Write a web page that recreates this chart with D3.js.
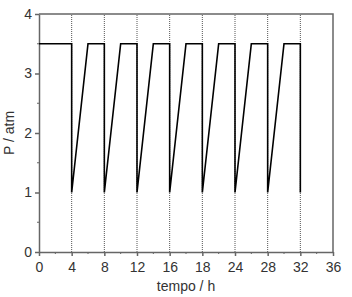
<!DOCTYPE html>
<html>
<head>
<meta charset="utf-8">
<script src="https://cdn.jsdelivr.net/npm/d3@7"></script>
<style>
  body { margin: 0; background: #fff; }
  text { font-family: "Liberation Sans", Arial, sans-serif; fill: #333; }
</style>
</head>
<body>
<script>
// pressure cycle: hold 3.5 atm, drop to 1 atm, ramp back up
var tempo = [0, 4, 4, 6, 8, 8, 10, 12, 12, 14, 16, 16, 18, 20, 20, 22, 24, 24, 26, 28, 28, 30, 32, 32];
var pressao = [3.5, 3.5, 1, 3.5, 3.5, 1, 3.5, 3.5, 1, 3.5, 3.5, 1, 3.5, 3.5, 1, 3.5, 3.5, 1, 3.5, 3.5, 1, 3.5, 3.5, 1];
var marcas = [4, 8, 12, 16, 20, 24, 28, 32];
var xTicks = [0, 4, 8, 12, 16, 20, 24, 28, 32, 36];
var xTickLabels = ["0", "4", "8", "12", "16", "18", "24", "28", "32", "36"];
var yTicks = [0, 1, 2, 3, 4];

var w = 352;
var h = 297;
var margin = {top: 14, right: 19, bottom: 45, left: 39};

var svg = d3.select("body")
            .append("svg")
            .attr("width", w)
            .attr("height", h);

var x = d3.scaleLinear().domain([0, 36]).range([margin.left, w - margin.right]);
var y = d3.scaleLinear().domain([0, 4]).range([h - margin.bottom, margin.top]);

var data = tempo.map(function(t, i) { return {t: t, p: pressao[i]}; });

// dotted guides
svg.selectAll("line.guia")
   .data(marcas)
   .enter()
   .append("line")
   .attr("class", "guia")
   .attr("x1", function(d) { return x(d); })
   .attr("x2", function(d) { return x(d); })
   .attr("y1", y(0))
   .attr("y2", y(4))
   .attr("stroke", "#555")
   .attr("stroke-width", 1)
   .attr("stroke-dasharray", "1,1");

// minor ticks
var gray = "#666";
svg.selectAll("line.mx")
   .data(d3.range(2, 36, 4))
   .enter()
   .append("line")
   .attr("x1", function(d) { return x(d); })
   .attr("x2", function(d) { return x(d); })
   .attr("y1", y(0))
   .attr("y2", y(0) + 2)
   .attr("stroke", gray);
svg.selectAll("line.my")
   .data(d3.range(0.5, 4, 1))
   .enter()
   .append("line")
   .attr("x1", x(0) - 2)
   .attr("x2", x(0))
   .attr("y1", function(d) { return y(d); })
   .attr("y2", function(d) { return y(d); })
   .attr("stroke", gray);

var xAxis = svg.append("g")
   .attr("transform", "translate(0," + y(0) + ")")
   .call(d3.axisBottom(x).tickValues(xTicks).tickSize(4).tickSizeOuter(0)
         .tickFormat(function(d, i) { return xTickLabels[i]; }));

var yAxis = svg.append("g")
   .attr("transform", "translate(" + x(0) + ",0)")
   .call(d3.axisLeft(y).tickValues(yTicks).tickSize(4).tickSizeOuter(0)
         .tickFormat(d3.format("d")));

[xAxis, yAxis].forEach(function(g) {
    g.selectAll("path, line").attr("stroke", gray).attr("stroke-width", 1.5);
    g.selectAll("text").attr("font-size", "14px").attr("fill", "#333")
     .style("font-family", "'Liberation Sans', Arial, sans-serif");
});
xAxis.selectAll("text").attr("dy", "0.9em");

// top and right frame
svg.append("path")
   .attr("d", "M" + x(0) + "," + y(4) + "H" + x(36) + "V" + y(0))
   .attr("fill", "none")
   .attr("stroke", gray)
   .attr("stroke-width", 1.5);

var line = d3.line()
   .x(function(d) { return x(d.t); })
   .y(function(d) { return y(d.p); });

svg.append("path")
   .datum(data)
   .attr("d", line)
   .attr("fill", "none")
   .attr("stroke", "#000")
   .attr("stroke-width", 1.6);

svg.append("text")
   .attr("x", (x(0) + x(36)) / 2)
   .attr("y", h - 6)
   .attr("text-anchor", "middle")
   .attr("font-size", "14px")
   .text("tempo / h");

svg.append("text")
   .attr("transform", "translate(14," + (y(2)) + ") rotate(-90)")
   .attr("text-anchor", "middle")
   .attr("font-size", "14px")
   .text("P / atm");
</script>
</body>
</html>
